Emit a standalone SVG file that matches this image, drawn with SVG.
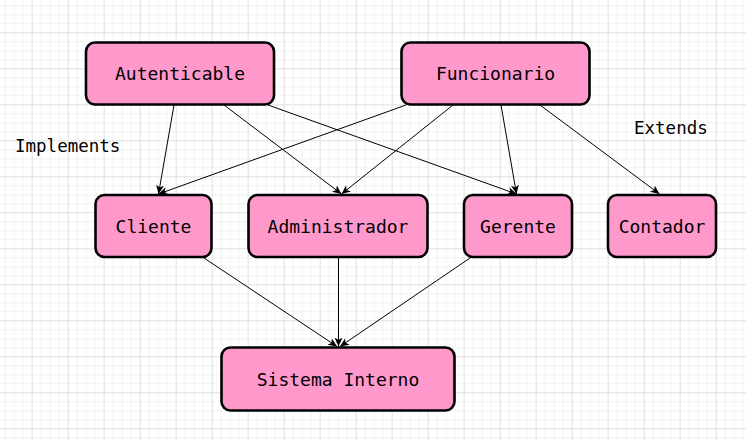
<svg xmlns="http://www.w3.org/2000/svg" width="746" height="440" viewBox="0 0 746 440">
  <defs>
    <pattern id="grid" patternUnits="userSpaceOnUse" x="-4.3" y="-3.7" width="36" height="36">
      <rect width="36" height="36" fill="#ffffff"/>
      <path d="M9.5,0 V36 M18.5,0 V36 M27.5,0 V36 M0,9.5 H36 M0,18.5 H36 M0,27.5 H36" stroke="#f3f3f3" stroke-width="1" fill="none"/>
      <path d="M0.5,0 V36 M0,0.5 H36" stroke="#e0e0e0" stroke-width="1" fill="none"/>
    </pattern>
    <marker id="arrow" markerUnits="userSpaceOnUse" markerWidth="12" markerHeight="10" refX="9" refY="4" orient="auto">
      <path d="M0,0 L9,4 L0,8 L2.5,4 Z" fill="#000"/>
    </marker>
  </defs>
  <style>
    .node rect { fill: #ff99cc; stroke: #000; stroke-width: 2.6; }
    .node text { font-family: "DejaVu Sans Mono", "Liberation Mono", monospace; font-size: 18px; fill: #000; text-anchor: middle; }
    .label { font-family: "DejaVu Sans Mono", "Liberation Mono", monospace; font-size: 17.5px; fill: #000; }
    .edges line { stroke: #000; stroke-width: 1; marker-end: url(#arrow); }
  </style>
  <rect width="746" height="440" fill="url(#grid)"/>

  <g id="connectors" class="edges">
    <line x1="174" y1="105" x2="158.5" y2="194"/>
    <line x1="224" y1="105" x2="341.5" y2="194"/>
    <line x1="268" y1="105" x2="516.5" y2="194"/>
    <line x1="406" y1="105" x2="158.5" y2="194"/>
    <line x1="453" y1="105" x2="341.5" y2="194"/>
    <line x1="501" y1="105" x2="516.5" y2="194"/>
    <line x1="540" y1="105" x2="659.5" y2="194"/>
    <line x1="204" y1="258" x2="337" y2="346.5"/>
    <line x1="338.5" y1="258" x2="338.5" y2="346.5"/>
    <line x1="470" y1="258" x2="340" y2="346.5"/>
  </g>

  <g id="autenticable" class="node">
    <rect x="86" y="42.5" width="188" height="62" rx="9"/>
    <text x="180" y="80">Autenticable</text>
  </g>
  <g id="funcionario" class="node">
    <rect x="401.5" y="42.5" width="188" height="62" rx="9"/>
    <text x="495.5" y="80">Funcionario</text>
  </g>
  <g id="cliente" class="node">
    <rect x="95.5" y="195" width="116" height="62" rx="9"/>
    <text x="153.5" y="232.5">Cliente</text>
  </g>
  <g id="administrador" class="node">
    <rect x="248.5" y="195" width="179" height="62" rx="9"/>
    <text x="338" y="232.5">Administrador</text>
  </g>
  <g id="gerente" class="node">
    <rect x="464" y="195" width="108" height="62" rx="9"/>
    <text x="518" y="232.5">Gerente</text>
  </g>
  <g id="contador" class="node">
    <rect x="608" y="195" width="108" height="62" rx="9"/>
    <text x="662" y="232.5">Contador</text>
  </g>
  <g id="sistema-interno" class="node">
    <rect x="221.5" y="347.5" width="233" height="63" rx="9"/>
    <text x="338" y="385.5">Sistema Interno</text>
  </g>

  <text class="label" x="15" y="152">Implements</text>
  <text class="label" x="634" y="134">Extends</text>
</svg>
